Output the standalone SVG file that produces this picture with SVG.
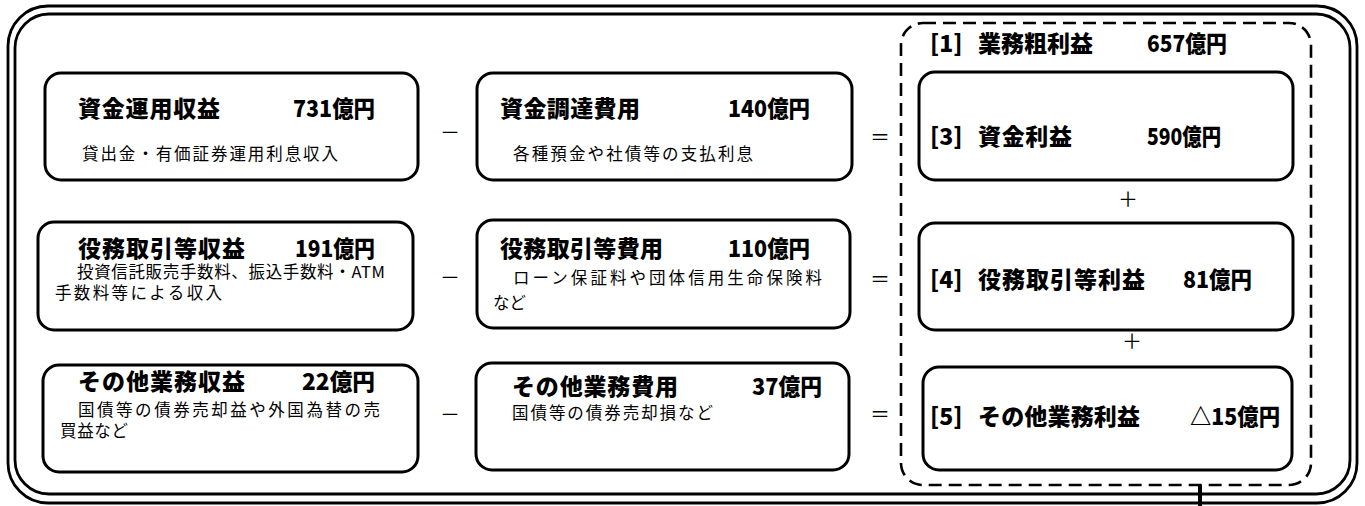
<svg xmlns="http://www.w3.org/2000/svg" width="1365" height="506" viewBox="0 0 1365 506">
<style>
text{font-family:"Noto Sans CJK JP","Noto Sans",sans-serif;fill:#000}
.t{font-size:23px;font-weight:900}
.n{font-size:23px;font-weight:900}
.s{font-size:16.5px}
.op{font-size:20px;text-anchor:middle}
.box{fill:#fff;stroke:#000;stroke-width:3}
.frame{fill:none;stroke:#000;stroke-width:2.8}
.dash{fill:none;stroke:#000;stroke-width:2.6;stroke-dasharray:13 7}
</style>
<rect width="1365" height="506" fill="#fff"/>
<g id="frame">
<rect class="frame" x="8" y="6" width="1349" height="497" rx="40"/>
<rect class="frame" x="15" y="14" width="1335" height="480" rx="34"/>
</g>
<g id="connectors">
<line x1="1200" y1="485" x2="1200" y2="506" stroke="#000" stroke-width="4"/>
</g>
<g id="gross-profit">
<rect class="dash" x="901" y="23" width="410" height="462" rx="22"/>
<text class="t" x="930" y="52">[1]</text>
<text class="t" x="978" y="52" textLength="115">業務粗利益</text>
<text class="n" x="1147" y="52" textLength="80" lengthAdjust="spacingAndGlyphs">657億円</text>
</g>
<g id="fund-income">
<rect class="box" x="45" y="73" width="373" height="107" rx="16"/>
<text class="t" x="78" y="117" textLength="142">資金運用収益</text>
<text class="n" x="293" y="117" textLength="82" lengthAdjust="spacingAndGlyphs">731億円</text>
<text class="s" x="82" y="160" textLength="256">貸出金・有価証券運用利息収入</text>
</g>
<g id="fund-cost">
<rect class="box" x="477" y="73" width="375" height="107" rx="16"/>
<text class="t" x="500" y="117" textLength="140">資金調達費用</text>
<text class="n" x="728" y="117" textLength="82" lengthAdjust="spacingAndGlyphs">140億円</text>
<text class="s" x="513" y="160" textLength="240">各種預金や社債等の支払利息</text>
</g>
<g id="fund-profit">
<rect class="box" x="919" y="72" width="374" height="108" rx="16"/>
<text class="t" x="930" y="145">[3]</text>
<text class="t" x="978" y="145" textLength="94">資金利益</text>
<text class="n" x="1147" y="145" textLength="74" lengthAdjust="spacingAndGlyphs">590億円</text>
</g>
<g id="fee-income">
<rect class="box" x="38" y="222" width="375" height="108" rx="16"/>
<text class="t" x="78" y="257" textLength="167">役務取引等収益</text>
<text class="n" x="295" y="257" textLength="80" lengthAdjust="spacingAndGlyphs">191億円</text>
<text class="s" x="77" y="278" textLength="308">投資信託販売手数料、振込手数料・ATM</text>
<text class="s" x="55" y="299" textLength="167">手数料等による収入</text>
</g>
<g id="fee-cost">
<rect class="box" x="477" y="220" width="373" height="108" rx="16"/>
<text class="t" x="500" y="257" textLength="163">役務取引等費用</text>
<text class="n" x="728" y="257" textLength="82" lengthAdjust="spacingAndGlyphs">110億円</text>
<text class="s" x="513" y="284" textLength="309">ローン保証料や団体信用生命保険料</text>
<text class="s" x="493" y="309" textLength="33">など</text>
</g>
<g id="fee-profit">
<rect class="box" x="919" y="223" width="374" height="107" rx="16"/>
<text class="t" x="930" y="288">[4]</text>
<text class="t" x="978" y="288" textLength="167">役務取引等利益</text>
<text class="n" x="1183" y="288" textLength="69" lengthAdjust="spacingAndGlyphs">81億円</text>
</g>
<g id="other-income">
<rect class="box" x="43" y="365" width="375" height="107" rx="16"/>
<text class="t" x="78" y="390" textLength="167">その他業務収益</text>
<text class="n" x="302" y="390" textLength="73" lengthAdjust="spacingAndGlyphs">22億円</text>
<text class="s" x="78" y="416" textLength="302">国債等の債券売却益や外国為替の売</text>
<text class="s" x="60" y="437" textLength="68">買益など</text>
</g>
<g id="other-cost">
<rect class="box" x="476" y="363" width="373" height="107" rx="16"/>
<text class="t" x="512" y="395" textLength="166">その他業務費用</text>
<text class="n" x="752" y="395" textLength="70" lengthAdjust="spacingAndGlyphs">37億円</text>
<text class="s" x="512" y="419" textLength="201">国債等の債券売却損など</text>
</g>
<g id="other-profit">
<rect class="box" x="923" y="367" width="369" height="103" rx="16"/>
<text class="t" x="930" y="425">[5]</text>
<text class="t" x="978" y="425" textLength="162">その他業務利益</text>
<text class="n" x="1190" y="425" textLength="90" lengthAdjust="spacingAndGlyphs">△15億円</text>
</g>
<g id="operators">
<text class="op" x="450" y="140">－</text>
<text class="op" x="880" y="145">＝</text>
<text class="op" x="450" y="285">－</text>
<text class="op" x="880" y="287">＝</text>
<text class="op" x="450" y="422">－</text>
<text class="op" x="880" y="422">＝</text>
<text class="op" x="1128" y="207">＋</text>
<text class="op" x="1132" y="349">＋</text>
</g>
</svg>
